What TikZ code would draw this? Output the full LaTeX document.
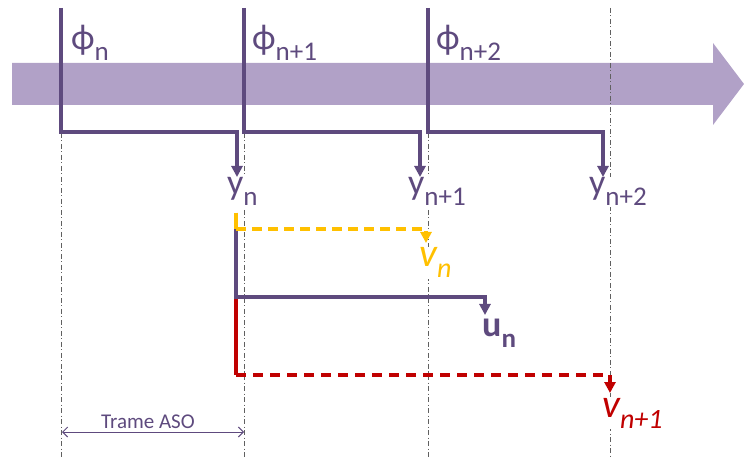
\documentclass[tikz,border=0pt]{standalone}
\usepackage{fontspec}
\setmainfont{Carlito}
\usetikzlibrary{arrows.meta}

\definecolor{bandlilac}{HTML}{B1A1C7}
\definecolor{darkviolet}{HTML}{5E4A7E}
\definecolor{asoyellow}{HTML}{FFC000}
\definecolor{asored}{HTML}{C00000}
\definecolor{gridgray}{HTML}{606060}

% label with a lowered subscript
\newcommand{\sublbl}[2]{{\fontsize{36}{36}\selectfont #1}\raisebox{-11pt}{\fontsize{27}{27}\selectfont #2}}
\newcommand{\sublblit}[2]{{\fontsize{40}{40}\selectfont\itshape #1}\raisebox{-11pt}{\fontsize{28}{28}\selectfont\itshape #2}}

\tikzset{
    timeline/.style={dash pattern=on 5pt off 2.5pt on 1pt off 2.5pt, gridgray, line width=0.8pt},
    bracket/.style={darkviolet, line width=3.2pt, -{Triangle[width=11pt,length=11pt]}},
    colorpath/.style={line width=3.2pt, -{Triangle[width=11pt,length=11pt]}},
    lbl/.style={anchor=base west, inner sep=1pt, fill=white, text=darkviolet}
}

\begin{document}
\begin{tikzpicture}[x=1pt, y=-1pt]
\useasboundingbox (0,0) rectangle (745,457);

% time band
\fill[bandlilac] (12,63) -- (713,63) -- (713,43) -- (744,84) -- (713,125) -- (713,105) -- (12,105) -- cycle;

% frame instants
\coordinate (t0) at (61,8);
\coordinate (t1) at (244,8);
\coordinate (t2) at (428,8);
\coordinate (t3) at (610,8);
\draw[timeline] (61,133) -- (61,457);
\draw[timeline] (244,133) -- (244,457);
\draw[timeline] (428,133) -- (428,457);
\draw[timeline] (t3) -- (610,457);

% labels
\node[lbl, fill=none] (phi0) at (70,50) {\sublbl{ϕ}{n}};
\node[lbl, fill=none] (phi1) at (251,50) {\sublbl{ϕ}{n+1}};
\node[lbl, fill=none] (phi2) at (435,50) {\sublbl{ϕ}{n+2}};
\node[lbl] (y0) at (226,195) {\sublbl{y}{n}};
\node[lbl] (y1) at (407,195) {\sublbl{y}{n+1}};
\node[lbl] (y2) at (588,195) {\sublbl{y}{n+2}};
\node[lbl, text=asoyellow] (v0) at (418,267) {\sublblit{v}{n}};
\node[lbl, text=darkviolet] (u0) at (481,337) {\bfseries\sublbl{u}{n}};
\node[lbl, text=asored] (v1) at (601,417) {\sublblit{v}{n+1}};

% observation brackets
\draw[bracket] (t0) -- (61,132) -- (237,132) -- (237,177);
\draw[bracket] (t1) -- (244,132) -- (420,132) -- (420,177);
\draw[bracket] (t2) -- (428,132) -- (603,132) -- (603,177);

% outputs from y_n
\coordinate (start) at (236,213);
\draw[asored, line width=3.2pt] (start) -- (236,375);
\draw[asored, colorpath, dash pattern=on 10pt off 7pt] (236,375) -- (610,375) -- (610,393);
\draw[darkviolet, colorpath] (start) -- (236,297) -- (485,297) -- (485,315);
\draw[asoyellow, line width=3.2pt] (start) -- (236,229);
\draw[asoyellow, colorpath, dash pattern=on 10pt off 6pt] (236,229) -- (426,229) -- (426,243);

% frame length
\node[text=darkviolet, font=\fontsize{21}{21}\selectfont, inner sep=1pt] (aso) at (148,422) {Trame ASO};
\coordinate (asoL) at (62,432);
\coordinate (asoR) at (244,432);
\draw[darkviolet, line width=1pt, {Straight Barb[length=5pt,width=10pt]}-{Straight Barb[length=5pt,width=10pt]}] (asoL) -- (asoR);

\end{tikzpicture}
\end{document}
